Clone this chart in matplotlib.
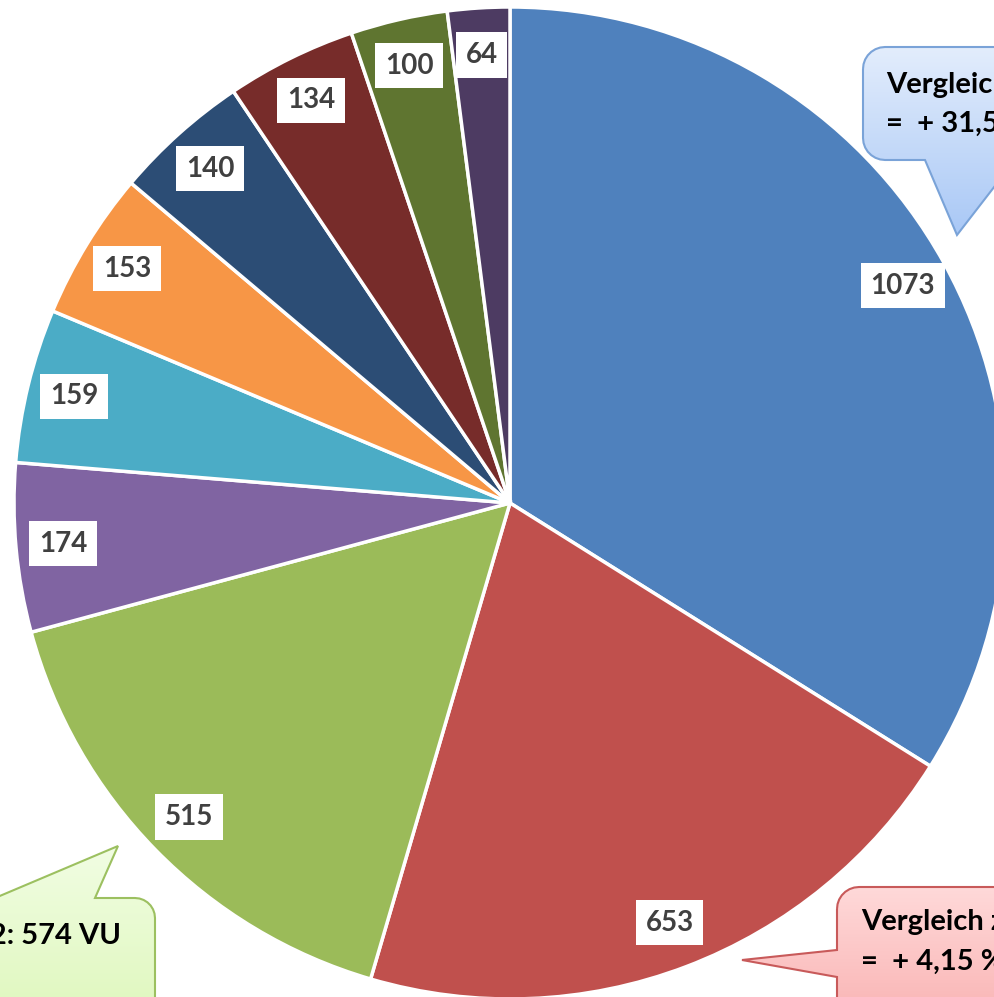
import numpy as np
import matplotlib.pyplot as plt
from matplotlib.patches import Polygon
from matplotlib.colors import LinearSegmentedColormap

# Werte der Segmente (im Uhrzeigersinn ab 12 Uhr)
werte = [1073, 653, 515, 174, 159, 153, 140, 134, 100, 64]
farben = ['#4F81BD', '#C0504D', '#9BBB59', '#8064A2', '#4BACC6',
          '#F79646', '#2C4D75', '#772C2A', '#5F7530', '#4D3B62']
summe = sum(werte)

# Sprechblasen-Texte
text_blau = ['Vergleich zu 2012', '=  + 31,5 %']
text_gruen = '2012: 574 VU'
text_rot = ['Vergleich zu 2012', '=  + 4,15 %']

plt.rcParams['font.family'] = ['Lato', 'DejaVu Sans']

fig = plt.figure(figsize=(9.94, 9.97), dpi=100)
ax = fig.add_axes([0, 0, 1, 1])

# Mittelpunkt (510, 503) px, Radius 496 px
R = 496
wedges, texts, autotexts = ax.pie(
    werte, colors=farben, startangle=90, counterclock=False,
    autopct=lambda p: '%d' % round(p * summe / 100), pctdistance=0.905,
    wedgeprops=dict(edgecolor='white', linewidth=2.5),
    textprops=dict(fontsize=20, fontweight='bold', color='#404040'))
for t in autotexts:
    t.set_bbox(dict(facecolor='white', edgecolor='none', pad=7))
ax.set_xlim(-510 / R, 484 / R)
ax.set_ylim(-494 / R, 503 / R)
ax.set_aspect('equal')
ax.axis('off')

# Overlay in Pixelkoordinaten fuer die Sprechblasen
ov = fig.add_axes([0, 0, 1, 1])
ov.set_xlim(0, 994)
ov.set_ylim(997, 0)
ov.axis('off')


def bogen(cx, cy, r, a0, a1):
    a = np.radians(np.linspace(a0, a1, 8))
    return list(zip(cx + r * np.cos(a), cy + r * np.sin(a)))


def blase(x0, y0, x1, y1, r, seite, spitze, c_oben, c_unten, rand):
    pts = bogen(x0 + r, y0 + r, r, 180, 270)
    if seite == 'top':
        pts += spitze
    pts += bogen(x1 - r, y0 + r, r, 270, 360)
    pts += bogen(x1 - r, y1 - r, r, 0, 90)
    if seite == 'bottom':
        pts += spitze
    pts += bogen(x0 + r, y1 - r, r, 90, 180)
    if seite == 'left':
        pts += spitze
    poly = Polygon(pts, closed=True, facecolor='none', edgecolor=rand,
                   linewidth=1.5, zorder=3)
    ov.add_patch(poly)
    ys = [p[1] for p in pts]
    xs = [p[0] for p in pts]
    cmap = LinearSegmentedColormap.from_list('g', [c_oben, c_unten])
    grad = np.linspace(0, 1, 256).reshape(-1, 1)
    im = ov.imshow(grad, cmap=cmap, extent=(min(xs), max(xs), max(ys), min(ys)),
                   origin='upper', aspect='auto', zorder=2)
    im.set_clip_path(poly)


blase(863, 47, 1080, 160, 22, 'bottom',
      [(1015, 160), (957, 235), (925, 160)],
      '#e3edfc', '#a9c8f6', '#7aa3d8')
ov.text(886, 85, text_blau[0], fontsize=21, fontweight='bold', va='center', zorder=4)
ov.text(886, 124, text_blau[1], fontsize=21, fontweight='bold', va='center', zorder=4)

blase(-120, 898, 155, 1080, 20, 'top',
      [(-5, 898), (118, 846), (95, 898)],
      '#f1fde3', '#d9f6b0', '#9cc060')
ov.text(121, 936, text_gruen, fontsize=21, fontweight='bold', va='center',
        ha='right', zorder=4)

blase(837, 887, 1100, 1080, 22, 'left',
      [(837, 977), (742, 960), (837, 950)],
      '#ffd9d9', '#f7a3a3', '#c85a5a')
ov.text(861, 922, text_rot[0], fontsize=21, fontweight='bold', va='center', zorder=4)
ov.text(861, 962, text_rot[1], fontsize=21, fontweight='bold', va='center', zorder=4)

plt.savefig('out.png', dpi=100)
